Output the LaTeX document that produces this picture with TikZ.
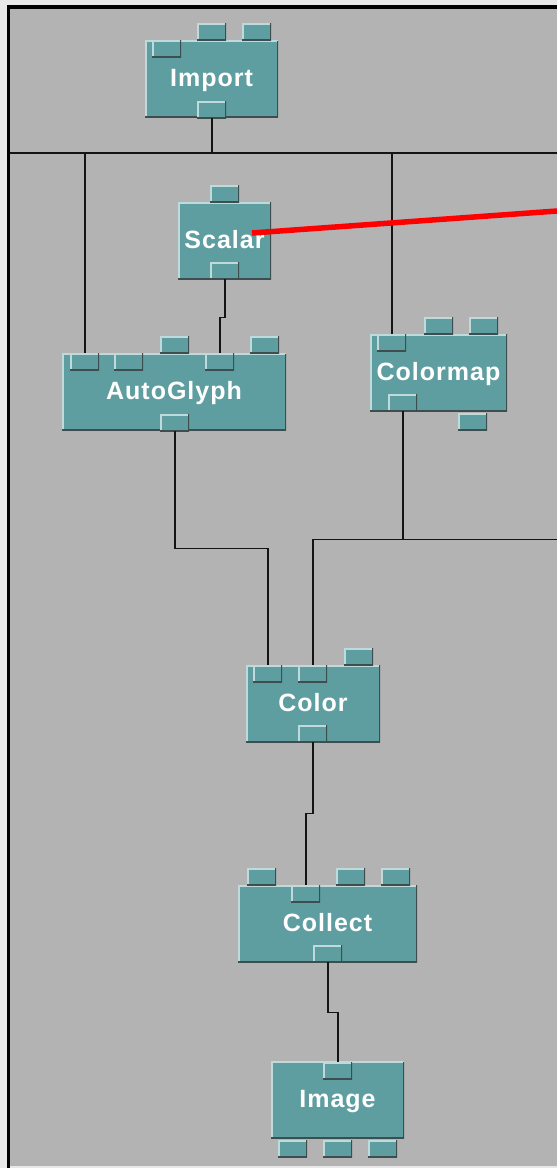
\documentclass[tikz,border=0pt]{standalone}
\usepackage{fontspec}
\setmainfont{Liberation Sans}
\newfontfamily\dxfont[LetterSpace=4]{Liberation Sans}
\definecolor{outer}{RGB}{232,232,232}
\definecolor{canvas}{RGB}{179,179,179}
\definecolor{dxteal}{RGB}{95,158,160}
\definecolor{dxlight}{RGB}{190,218,218}
\definecolor{dxshade}{RGB}{62,78,78}
\definecolor{wirecol}{RGB}{20,20,20}

\begin{document}
\begin{tikzpicture}[
  x=1pt, y=-1pt,
  bevel/.style={fill=dxteal, path picture={
    \draw[dxlight, line width=3pt] (path picture bounding box.south west) |- (path picture bounding box.north east);
    \draw[dxshade, line width=3pt] (path picture bounding box.south west) -| (path picture bounding box.north east);}},
  module/.style={bevel, minimum width=#1, minimum height=77pt, inner sep=0pt, text=white,
    font=\dxfont\fontsize{25}{26}\selectfont\bfseries, text height=18pt, text depth=3pt},
  module/.default=133pt,
  tab/.style={bevel, minimum width=29pt, minimum height=17pt, inner sep=0pt, anchor=north west},
  wire/.style={draw=wirecol, line width=1.6pt},
  redwire/.style={draw=red, line width=5.5pt}
]
% window frame
\fill[outer] (0,0) rectangle (557,1168);
\fill[black] (7,5) rectangle (557,1168);
\fill[canvas] (10,9) rectangle (557,1166);
\fill[outer] (10,1166) rectangle (557,1168);
\useasboundingbox (0,0) rectangle (557,1168);

% modules
\node[module=133pt] (imp) at (211.5,79) {Import};
\node[module=93pt] (sca) at (224.5,240.5) {Scalar};
\node[module=224pt] (agl) at (174,392) {AutoGlyph};
\node[module=137pt] (cmap) at (438.5,372.5) {Colormap};
\node[module=134pt] (col) at (313,703.5) {Color};
\node[module=179pt] (clt) at (327.5,923.5) {Collect};
\node[module=133pt] (img) at (337.5,1100) {Image};

% tabs
\node[tab] (imp-i1) at (152,40) {};
\foreach \x/\n in {197/2,242/3}
  \node[tab] (imp-i\n) at (\x,23) {};
\node[tab] (imp-o1) at (197,101) {};

\node[tab] (sca-i1) at (210,185) {};
\node[tab] (sca-o1) at (210,262) {};

\foreach \x/\n in {70/1,114/2,205/4}
  \node[tab] (agl-i\n) at (\x,353) {};
\foreach \x/\n in {160/3,250/5}
  \node[tab] (agl-i\n) at (\x,336) {};
\node[tab] (agl-o1) at (160,414) {};

\node[tab] (cmap-i1) at (377,334) {};
\foreach \x/\n in {424/2,469/3}
  \node[tab] (cmap-i\n) at (\x,317) {};
\node[tab] (cmap-o1) at (388,394) {};
\node[tab] (cmap-o2) at (458,413) {};

\foreach \x/\n in {253/1,298/2}
  \node[tab] (col-i\n) at (\x,665) {};
\node[tab] (col-i3) at (344,648) {};
\node[tab] (col-o1) at (298,725) {};

\node[tab] (clt-i2) at (291,885) {};
\foreach \x/\n in {247/1,336/3,381/4}
  \node[tab] (clt-i\n) at (\x,868) {};
\node[tab] (clt-o1) at (313,945) {};

\node[tab] (img-i1) at (323,1062) {};
\foreach \x/\n in {278/1,323/2,368/3}
  \node[tab] (img-o\n) at (\x,1140) {};

% wires
\coordinate (busL) at (10,153);
\coordinate (busR) at (557,153);
\draw[wire] (imp-o1.south) |- (busL);
\draw[wire] (imp-o1.south) |- (busR);
\draw[wire] (agl-i1.north) -- (agl-i1.north |- busL);
\draw[wire] (cmap-i1.north) -- (cmap-i1.north |- busR);
\draw[wire] (sca-o1.south) -- ++(0,38) -| (agl-i4.north);
\draw[wire] (agl-o1.south) -- ++(0,117) -| (col-i1.north);
\draw[wire] (cmap-o1.south) -- ++(0,128) coordinate (cmapj) -| (col-i2.north);
\draw[wire] (cmapj) -- (cmapj -| busR);
\draw[wire] (col-o1.south) -- ++(0,71) -| (clt-i2.north);
\draw[wire] (clt-o1.south) -- ++(0,50) -| (img-i1.north);

% selected wire
\coordinate (redA) at (252,233);
\coordinate (redB) at (557,211);
\draw[redwire] (redA) -- (redB);
\end{tikzpicture}
\end{document}
